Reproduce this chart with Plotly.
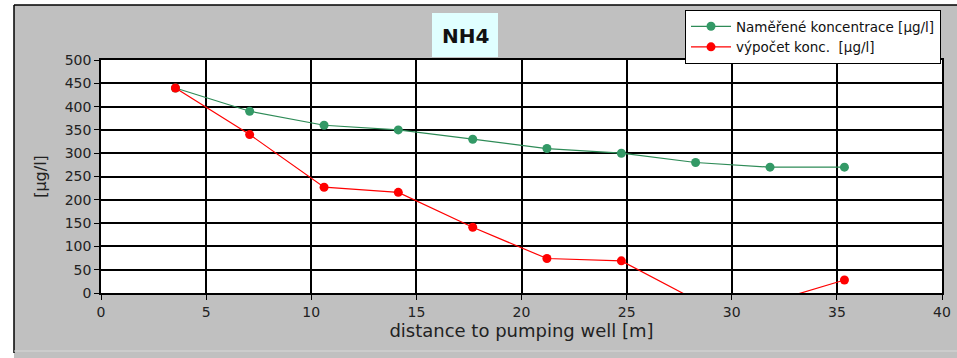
import plotly.graph_objects as go

# Data
distance = [3.54, 7.07, 10.61, 14.14, 17.68, 21.21, 24.75, 28.28, 31.82, 35.36]
measured = [440, 390, 360, 350, 330, 310, 300, 280, 270, 270]
computed = [440, 340, 227, 216, 141, 74, 69, -15, -20, 28]
x_ticks = [0, 5, 10, 15, 20, 25, 30, 35, 40]
y_ticks = [0, 50, 100, 150, 200, 250, 300, 350, 400, 450, 500]

W, H = 957, 358
L, R, T, B = 101, 15, 60, 65
pw, ph = W - L - R, H - T - B

def px(x):
    return (x - L) / pw

def py(y):
    return (H - B - y) / ph

fig = go.Figure()
fig.add_trace(go.Scatter(
    x=distance, y=measured, mode="lines+markers",
    name="Naměřené koncentrace [µg/l]",
    line=dict(color="#2e8b57", width=1.2),
    marker=dict(color="#339966", size=9),
))
fig.add_trace(go.Scatter(
    x=distance, y=computed, mode="lines+markers",
    name="výpočet konc.  [µg/l]",
    line=dict(color="#ff0000", width=1.2),
    marker=dict(color="#ff0000", size=9),
))

font_main = "DejaVu Sans, Verdana, sans-serif"

fig.update_layout(
    width=W, height=H,
    margin=dict(l=L, r=R, t=T, b=B, autoexpand=False),
    paper_bgcolor="#c0c0c0",
    plot_bgcolor="white",
    font=dict(family=font_main, size=14, color="#222"),
    showlegend=True,
    legend=dict(
        x=px(685), y=py(10), xanchor="left", yanchor="top",
        bgcolor="white", bordercolor="black", borderwidth=1,
        font=dict(size=13.5, color="#111"),
        itemwidth=40, tracegroupgap=0,
    ),
    xaxis=dict(
        range=[0, 40], tickvals=x_ticks, ticktext=[str(v) for v in x_ticks],
        showgrid=True, gridcolor="black", gridwidth=1.5,
        showline=True, linecolor="black", linewidth=1.5, mirror=True,
        ticks="outside", ticklen=5, tickcolor="black",
        tickfont=dict(size=14, color="#222"),
        title=dict(text="distance to pumping well [m]", standoff=2,
                   font=dict(size=18, color="#222")),
        zeroline=False,
    ),
    yaxis=dict(
        range=[0, 500], tickvals=y_ticks, ticktext=[str(v) for v in y_ticks],
        showgrid=True, gridcolor="black", gridwidth=1.5,
        showline=True, linecolor="black", linewidth=1.5, mirror=True,
        ticks="outside", ticklen=5, tickcolor="black",
        tickfont=dict(size=14, color="#222"),
        title=dict(text="[µg/l]", standoff=14, font=dict(size=16, color="#222")),
        zeroline=False,
    ),
    shapes=[
        # white strips outside the chart frame
        dict(type="rect", xref="paper", yref="paper", x0=px(0), x1=px(14),
             y0=py(H), y1=py(0), fillcolor="white", line=dict(width=0), layer="below"),
        dict(type="rect", xref="paper", yref="paper", x0=px(0), x1=px(W),
             y0=py(5), y1=py(0), fillcolor="white", line=dict(width=0), layer="below"),
        # frame lines
        dict(type="line", xref="paper", yref="paper", x0=px(14), x1=px(14),
             y0=py(353), y1=py(5), line=dict(color="black", width=1.5)),
        dict(type="line", xref="paper", yref="paper", x0=px(14), x1=px(W),
             y0=py(5), y1=py(5), line=dict(color="black", width=1.5)),
        dict(type="line", xref="paper", yref="paper", x0=px(14), x1=px(W),
             y0=py(351), y1=py(351), line=dict(color="#d8d8d8", width=1)),
        # title box
        dict(type="rect", xref="paper", yref="paper", x0=px(432), x1=px(498),
             y0=py(57), y1=py(13), fillcolor="#e0ffff", line=dict(width=0)),
    ],
    annotations=[
        dict(text="<b>NH4</b>", xref="paper", yref="paper", x=px(465), y=py(36),
             xanchor="center", yanchor="middle", showarrow=False,
             font=dict(size=20, color="#111", family=font_main)),
    ],
)

fig.write_html("out.html",
               config={"displayModeBar": False},
               post_script="document.body.style.margin='0';document.body.style.overflow='hidden';")
